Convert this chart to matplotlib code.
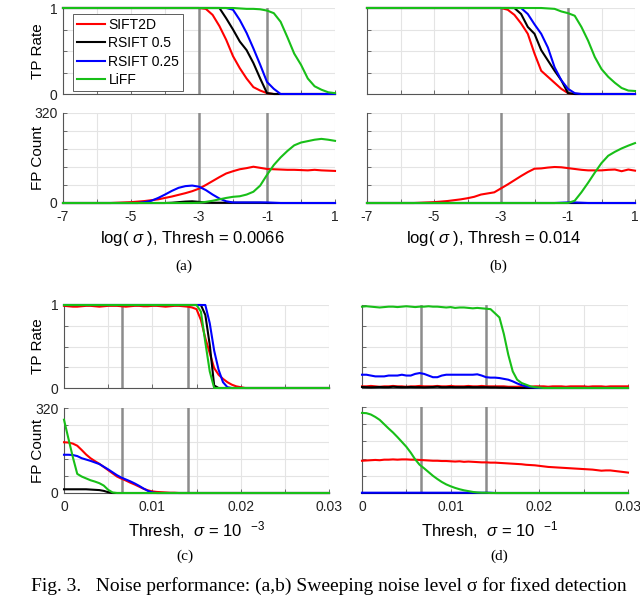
import numpy as np
import matplotlib
matplotlib.use("Agg")
import matplotlib.pyplot as plt

plt.rcParams['font.family'] = ['Liberation Sans', 'DejaVu Sans']
plt.rcParams['mathtext.fontset'] = 'custom'
plt.rcParams['mathtext.rm'] = 'Liberation Sans'
plt.rcParams['mathtext.it'] = 'Liberation Sans:italic'

# ---------------- data ----------------
methods = ["SIFT2D", "RSIFT 0.5", "RSIFT 0.25", "LiFF"]
colors = ["#ff0000", "#000000", "#0000ff", "#18bf18"]

log_sigma = np.round(np.arange(-7, 1.0001, 0.2), 2)          # 41 points
thresh = np.round(np.arange(0, 0.03 + 1e-9, 0.0005), 5)      # 61 points

# (a) Thresh = 0.0066
a_tp_sift = [1]*21 + [0.99, 0.92, 0.79, 0.63, 0.44, 0.30, 0.18, 0.08, 0.04, 0.01] + [0]*10
a_tp_rs05 = [1]*24 + [0.88, 0.75, 0.61, 0.51, 0.36, 0.18, 0.01] + [0]*10
a_tp_rs025 = [1]*25 + [0.98, 0.86, 0.71, 0.53, 0.34, 0.14, 0.06] + [0]*9
a_tp_liff = [1]*26 + [0.995, 0.99, 0.99, 0.985, 0.97, 0.94, 0.84, 0.66, 0.47, 0.34, 0.18,
                      0.09, 0.05, 0.02, 0.01]
a_fp_sift = [0]*8 + [1, 2, 3, 5, 7, 10, 13, 18, 23, 29, 35, 42, 51, 64, 78, 92, 105, 113, 120,
                     124, 129, 125, 121, 120, 119, 118, 118, 117, 116, 118, 116, 115, 114]
a_fp_rs05 = [0]*16 + [1, 3, 5, 6, 4, 2, 1, 1, 1, 1, 1, 1, 1, 1, 0] + [0]*10
a_fp_rs025 = [0]*12 + [3, 8, 18, 30, 43, 54, 60, 62, 58, 46, 30, 16, 6, 2, 2, 2, 2, 2, 2, 1] + [0]*9
a_fp_liff = [0]*20 + [1, 4, 8, 13, 18, 22, 24, 30, 40, 62, 100, 135, 162, 185, 205, 215, 220,
                      225, 228, 225, 221]

# (b) Thresh = 0.014
b_tp_sift = [1]*21 + [0.98, 0.92, 0.82, 0.70, 0.47, 0.27, 0.20, 0.13, 0.06, 0.01] + [0]*10
b_tp_rs05 = [1]*23 + [0.93, 0.78, 0.70, 0.51, 0.39, 0.27, 0.16, 0.01] + [0]*10
b_tp_rs025 = [1]*24 + [0.93, 0.81, 0.70, 0.54, 0.31, 0.16, 0.06, 0.01] + [0]*9
b_tp_liff = [1]*27 + [0.995, 0.99, 0.96, 0.94, 0.91, 0.78, 0.62, 0.43, 0.29, 0.20, 0.13,
                      0.07, 0.04, 0.035]
b_fp_sift = [0]*8 + [1, 2, 3, 5, 7, 10, 13, 17, 22, 30, 34, 38, 52, 66, 81, 96, 110, 122, 123,
                     126, 128, 127, 124, 121, 118, 116, 116, 116, 118, 119, 113, 119, 115]
b_fp_rs05 = [0]*41
b_fp_rs025 = [0]*29 + [1, 2, 2, 1] + [0]*8
b_fp_liff = [0]*31 + [8, 38, 72, 108, 142, 168, 182, 194, 204, 213]

# (c) sigma = 1e-3
c_tp_sift = [0.99, 0.985, 0.98, 0.98, 0.985, 0.99, 0.99, 0.985, 0.98, 0.985, 0.99, 0.99, 0.99,
             0.985, 0.98, 0.985, 0.99, 0.99, 0.985, 0.985, 0.99, 0.99, 0.985, 0.98, 0.985, 0.99,
             0.99, 0.985, 0.98, 0.97, 0.95, 0.82, 0.60, 0.42, 0.24, 0.16, 0.11, 0.07, 0.04, 0.02,
             0.01] + [0]*20
c_tp_rs05 = [1]*32 + [0.88, 0.52, 0.03] + [0]*26
c_tp_rs025 = [1]*33 + [0.78, 0.45, 0.22, 0.07, 0.01] + [0]*23
c_tp_liff = [1]*31 + [0.92, 0.55, 0.20] + [0]*27
c_fp_sift = [191, 190, 186, 178, 162, 145, 131, 120, 110, 98, 86, 74, 62, 54, 47, 39, 32, 24, 16,
             10, 6, 4, 3, 2, 1, 1] + [0]*35
c_fp_rs05 = [14, 14, 14, 14, 14, 14, 13, 12, 11, 8, 3] + [0]*50
c_fp_rs025 = [144, 144, 143, 139, 131, 126, 121, 115, 109, 99, 89, 78, 67, 58, 51, 44, 36, 27, 17,
              8, 2] + [0]*40
c_fp_liff = [276, 205, 135, 72, 62, 55, 48, 43, 37, 28, 12, 2] + [0]*49

# (d) sigma = 1e-1
d_tp_sift = [0.02, 0.02, 0.025, 0.02, 0.015, 0.02, 0.02, 0.025, 0.02, 0.02, 0.015, 0.02, 0.02,
             0.025, 0.02, 0.02, 0.02, 0.025, 0.02, 0.02, 0.025, 0.02, 0.02, 0.02, 0.025, 0.02,
             0.02, 0.025, 0.02, 0.02, 0.02, 0.02, 0.02, 0.015, 0.015, 0.015, 0.02, 0.02, 0.015,
             0.02, 0.02, 0.02, 0.015, 0.02, 0.02, 0.02, 0.015, 0.02, 0.02, 0.02, 0.02, 0.015, 0.02,
             0.02, 0.02, 0.015, 0.02, 0.02, 0.02, 0.02, 0.02]
d_tp_rs05 = [0.012, 0.01, 0.008, 0.01, 0.012, 0.01, 0.01, 0.015, 0.012, 0.01, 0.01, 0.012, 0.01,
             0.01, 0.008, 0.01, 0.012, 0.015, 0.01, 0.01, 0.012, 0.01, 0.01, 0.01, 0.012, 0.01,
             0.01, 0.01, 0.01, 0.008, 0.008, 0.006, 0.005, 0.003, 0.002] + [0]*26
d_tp_rs025 = [0.16, 0.16, 0.15, 0.14, 0.14, 0.14, 0.15, 0.15, 0.15, 0.16, 0.15, 0.15, 0.17, 0.18,
              0.17, 0.15, 0.13, 0.13, 0.15, 0.16, 0.16, 0.16, 0.16, 0.16, 0.16, 0.16, 0.165, 0.15,
              0.13, 0.125, 0.125, 0.12, 0.11, 0.10, 0.08, 0.055, 0.035, 0.02, 0.01, 0.004] + [0]*21
d_tp_liff = [0.98, 0.985, 0.98, 0.975, 0.97, 0.975, 0.98, 0.98, 0.975, 0.98, 0.985, 0.98, 0.975,
             0.98, 0.98, 0.985, 0.98, 0.98, 0.975, 0.97, 0.975, 0.965, 0.97, 0.97, 0.965, 0.96,
             0.965, 0.96, 0.955, 0.95, 0.90, 0.85, 0.65, 0.40, 0.20, 0.10, 0.06, 0.04, 0.02,
             0.01, 0.005] + [0]*20
d_fp_sift = [120, 121, 122, 123, 122, 124, 124, 125, 124, 125, 125, 124, 124, 123, 122, 121, 120,
             120, 119, 119, 118, 117, 118, 116, 117, 116, 115, 114, 114, 113, 113, 112, 111, 110,
             109, 108, 107, 105, 104, 103, 101, 99, 97, 96, 95, 94, 93, 92, 91, 90, 89, 88, 87,
             85, 83, 84, 84, 82, 80, 78, 76]
d_fp_rs05 = [0]*61
d_fp_rs025 = [1]*30 + [0]*31
d_fp_liff = [298, 297, 292, 283, 272, 256, 240, 225, 208, 190, 172, 150, 125, 105, 92, 78, 64, 52,
             41, 32, 25, 19, 14, 10, 7, 4, 2, 1, 1] + [0]*32

top_xticks = list(range(-7, 2))
top_xticklabels = ["-7", "", "-5", "", "-3", "", "-1", "", "1"]
bot_xticks = [0, 0.005, 0.01, 0.015, 0.02, 0.025, 0.03]
bot_xticklabels = ["0", "", "0.01", "", "0.02", "", "0.03"]
tp_yticks = [0, 0.25, 0.5, 0.75, 1]
tp_yticklabels = ["0", "", "", "", "1"]
fp_yticks = [0, 64, 128, 192, 256, 320]
fp_yticklabels = ["0", "", "", "", "", "320"]

top_marks = [-3, -1]
bot_marks = [0.0066, 0.014]

caption = "Fig. 3.   Noise performance: (a,b) Sweeping noise level \u03c3 for fixed detection"

# ---------------- layout ----------------
W, H = 640, 595
fig = plt.figure(figsize=(W/100, H/100), dpi=100)


def px_axes(x0, x1, ytop, ybot):
    return fig.add_axes([x0/W, 1 - ybot/H, (x1-x0)/W, (ybot-ytop)/H])


def style(ax, xlim, xticks, xticklabels, ylim, yticks, yticklabels, show_xlabels):
    ax.set_xlim(*xlim)
    ax.set_ylim(*ylim)
    ax.set_xticks(xticks)
    ax.set_xticklabels(xticklabels if show_xlabels else [""]*len(xticks))
    ax.set_yticks(yticks)
    ax.set_yticklabels(yticklabels)
    for s in ["top", "right"]:
        ax.spines[s].set_visible(False)
    for s in ["left", "bottom"]:
        ax.spines[s].set_color("#555555")
        ax.spines[s].set_linewidth(0.8)
    ax.tick_params(direction="in", length=3, width=0.6, color="#555555",
                   labelsize=10, labelcolor="#222222")
    ax.tick_params(axis="y", pad=4)
    ax.tick_params(axis="x", pad=5)
    ax.grid(True, color="#e4e4e4", lw=0.8)
    ax.set_axisbelow(True)


panels = [
    dict(box=(63, 335, 8, 94, 113, 203), x=log_sigma,
         tp=[a_tp_sift, a_tp_rs05, a_tp_rs025, a_tp_liff],
         fp=[a_fp_sift, a_fp_rs05, a_fp_rs025, a_fp_liff],
         xlim=(-7, 1), xt=top_xticks, xtl=top_xticklabels, marks=top_marks,
         xlabel=r"log( $\sigma$ ), Thresh = 0.0066", xl_x=192, xl_y=238,
         tag="(a)", tag_x=184, tag_y=266, ylab=True, legend=True),
    dict(box=(367, 635, 8, 94, 113, 203), x=log_sigma,
         tp=[b_tp_sift, b_tp_rs05, b_tp_rs025, b_tp_liff],
         fp=[b_fp_sift, b_fp_rs05, b_fp_rs025, b_fp_liff],
         xlim=(-7, 1), xt=top_xticks, xtl=top_xticklabels, marks=top_marks,
         xlabel=r"log( $\sigma$ ), Thresh = 0.014", xl_x=494, xl_y=238,
         tag="(b)", tag_x=498, tag_y=266, ylab=False, legend=False),
    dict(box=(64, 329, 305, 388, 408, 493), x=thresh,
         tp=[c_tp_sift, c_tp_rs05, c_tp_rs025, c_tp_liff],
         fp=[c_fp_sift, c_fp_rs05, c_fp_rs025, c_fp_liff],
         xlim=(0, 0.03), xt=bot_xticks, xtl=bot_xticklabels, marks=bot_marks,
         xlabel=r"Thresh,  $\sigma$ = 10  $^{-3}$", xl_x=197, xl_y=530,
         tag="(c)", tag_x=185, tag_y=556, ylab=True, legend=False),
    dict(box=(362, 628, 305, 388, 407, 493), x=thresh,
         tp=[d_tp_sift, d_tp_rs05, d_tp_rs025, d_tp_liff],
         fp=[d_fp_sift, d_fp_rs05, d_fp_rs025, d_fp_liff],
         xlim=(0, 0.03), xt=bot_xticks, xtl=bot_xticklabels, marks=bot_marks,
         xlabel=r"Thresh,  $\sigma$ = 10  $^{-1}$", xl_x=490, xl_y=530,
         tag="(d)", tag_x=499, tag_y=556, ylab=False, legend=False),
]

for p in panels:
    x0, x1, tt, tb, ft, fb = p["box"]
    ax_tp = px_axes(x0, x1, tt, tb)
    ax_fp = px_axes(x0, x1, ft, fb)
    style(ax_tp, p["xlim"], p["xt"], p["xtl"], (0, 1), tp_yticks,
          tp_yticklabels if p["ylab"] else [""]*5, False)
    style(ax_fp, p["xlim"], p["xt"], p["xtl"], (0, 320), fp_yticks,
          fp_yticklabels if p["ylab"] else [""]*6, True)
    for ax in (ax_tp, ax_fp):
        for m in p["marks"]:
            ax.axvline(m, color="#8c8c8c", lw=1.8, zorder=1.5)
    lines = []
    for ys, c, lab in zip(p["tp"], colors, methods):
        ln, = ax_tp.plot(p["x"], ys, color=c, lw=1.5, label=lab, clip_on=False,
                         solid_joinstyle="round", zorder=3)
        lines.append(ln)
    for ys, c, lab in zip(p["fp"], colors, methods):
        ax_fp.plot(p["x"], ys, color=c, lw=1.5, label=lab, clip_on=False,
                   solid_joinstyle="round", zorder=3)
    if p["ylab"]:
        ax_tp.set_ylabel("TP Rate", fontsize=11)
        ax_fp.set_ylabel("FP Count", fontsize=11)
        ax_tp.yaxis.set_label_coords(-(x0-38)/(x1-x0), 0.5)
        ax_fp.yaxis.set_label_coords(-(x0-38)/(x1-x0), 0.5)
        for ax in (ax_tp, ax_fp):
            ax.yaxis.label.set_va("center")
    ax_fp.set_xlabel(p["xlabel"], fontsize=12)
    ax_fp.xaxis.set_label_coords((p["xl_x"]-x0)/(x1-x0), -(p["xl_y"]-fb)/(fb-ft))
    ax_fp.xaxis.label.set_va("center")
    fig.text(p["tag_x"]/W, 1 - p["tag_y"]/H, p["tag"], ha="center", va="center",
             fontsize=11, family="Liberation Serif")
    if p["legend"]:
        leg = ax_tp.legend(handles=lines, loc="upper left",
                           bbox_to_anchor=(10/(x1-x0), 1 - 6/(tb-tt)),
                           borderaxespad=0, fontsize=10, handlelength=2.0,
                           handletextpad=0.25, labelspacing=0.3, borderpad=0.3,
                           fancybox=False, framealpha=1, edgecolor="#444444")
        leg.get_frame().set_linewidth(0.6)
        leg.set_zorder(5)

fig.text(31/W, 1 - 591/H, caption, ha="left", va="baseline",
         fontsize=14, family="Liberation Serif")

fig.savefig("out.png", dpi=100)
